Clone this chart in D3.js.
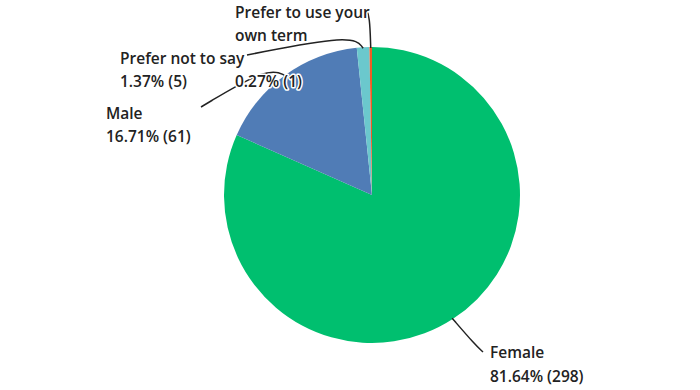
<!DOCTYPE html>
<html lang="en">
<head>
<meta charset="utf-8">
<title>Gender</title>
<script src="https://d3js.org/d3.v7.min.js"></script>
<style>
  body { margin: 0; background: #fff; }
  .lbl { font-family: "Open Sans", Roboto, sans-serif; font-weight: 600; font-size: 15.5px; fill: #222;
         stroke: #fff; stroke-width: 3px; paint-order: stroke; stroke-linejoin: round; }
</style>
</head>
<body>
<div id="chart"></div>
<script>
// data
var categories = ["Female", "Male", "Prefer not to say", "Prefer to use your own term"];
var counts = [298, 61, 5, 1];
var percents = ["81.64%", "16.71%", "1.37%", "0.27%"];
var colors = ["#00bf6f", "#507cb6", "#6bc8cd", "#f05b24"];

// label layout: text lines, text anchor position, leader elbow + end
var labelLayout = [
  { lines: ["Female", "81.64% (298)"], x: 490, y: 358, gap: 24, elbow: [476, 346], end: [483, 352] },
  { lines: ["Male", "16.71% (61)"], x: 106, y: 119, gap: 23, elbow: [273, 62], end: [201, 107] },
  { lines: ["Prefer not to say", "1.37% (5)"], x: 120, y: 64, gap: 23, elbow: [361, 31], end: [247, 55] },
  { lines: ["Prefer to use your", "own term", "", "0.27% (1)"], x: 235, y: 18, gap: 23, elbow: [370, 14], end: [366, 9] }
];

var width = 700, height = 390;
var cx = 372, cy = 195, radius = 148;

var svg = d3.select("#chart").append("svg")
    .attr("width", width)
    .attr("height", height);

var g = svg.append("g").attr("transform", "translate(" + cx + "," + cy + ")");

var pie = d3.pie().sort(null).value(function(d) { return d; });
var arcs = pie(counts);
var arc = d3.arc().innerRadius(0).outerRadius(radius);

g.selectAll("path.slice")
    .data(arcs)
    .enter().append("path")
    .attr("class", "slice")
    .attr("d", arc)
    .attr("fill", function(d, i) { return colors[i]; });

// leader lines
var line = d3.line().curve(d3.curveBundle.beta(0.85));
svg.selectAll("path.leader")
    .data(arcs)
    .enter().append("path")
    .attr("class", "leader")
    .attr("fill", "none")
    .attr("stroke", "#222")
    .attr("stroke-width", 1.5)
    .attr("d", function(d, i) {
        var a = (d.startAngle + d.endAngle) / 2;
        var p0 = [cx + Math.sin(a) * (radius - 1), cy - Math.cos(a) * (radius - 1)];
        var L = labelLayout[i];
        return line([p0, L.elbow, L.end]);
    });

// labels
var lbl = svg.selectAll("text.lbl")
    .data(labelLayout)
    .enter().append("text")
    .attr("class", "lbl")
    .attr("x", function(d) { return d.x; })
    .attr("y", function(d) { return d.y; });

lbl.selectAll("tspan")
    .data(function(d) { return d.lines.map(function(t, j) { return { t: t, x: d.x, y: d.y + j * d.gap }; }); })
    .enter().append("tspan")
    .attr("x", function(d) { return d.x; })
    .attr("y", function(d) { return d.y; })
    .text(function(d) { return d.t; });
</script>
</body>
</html>
